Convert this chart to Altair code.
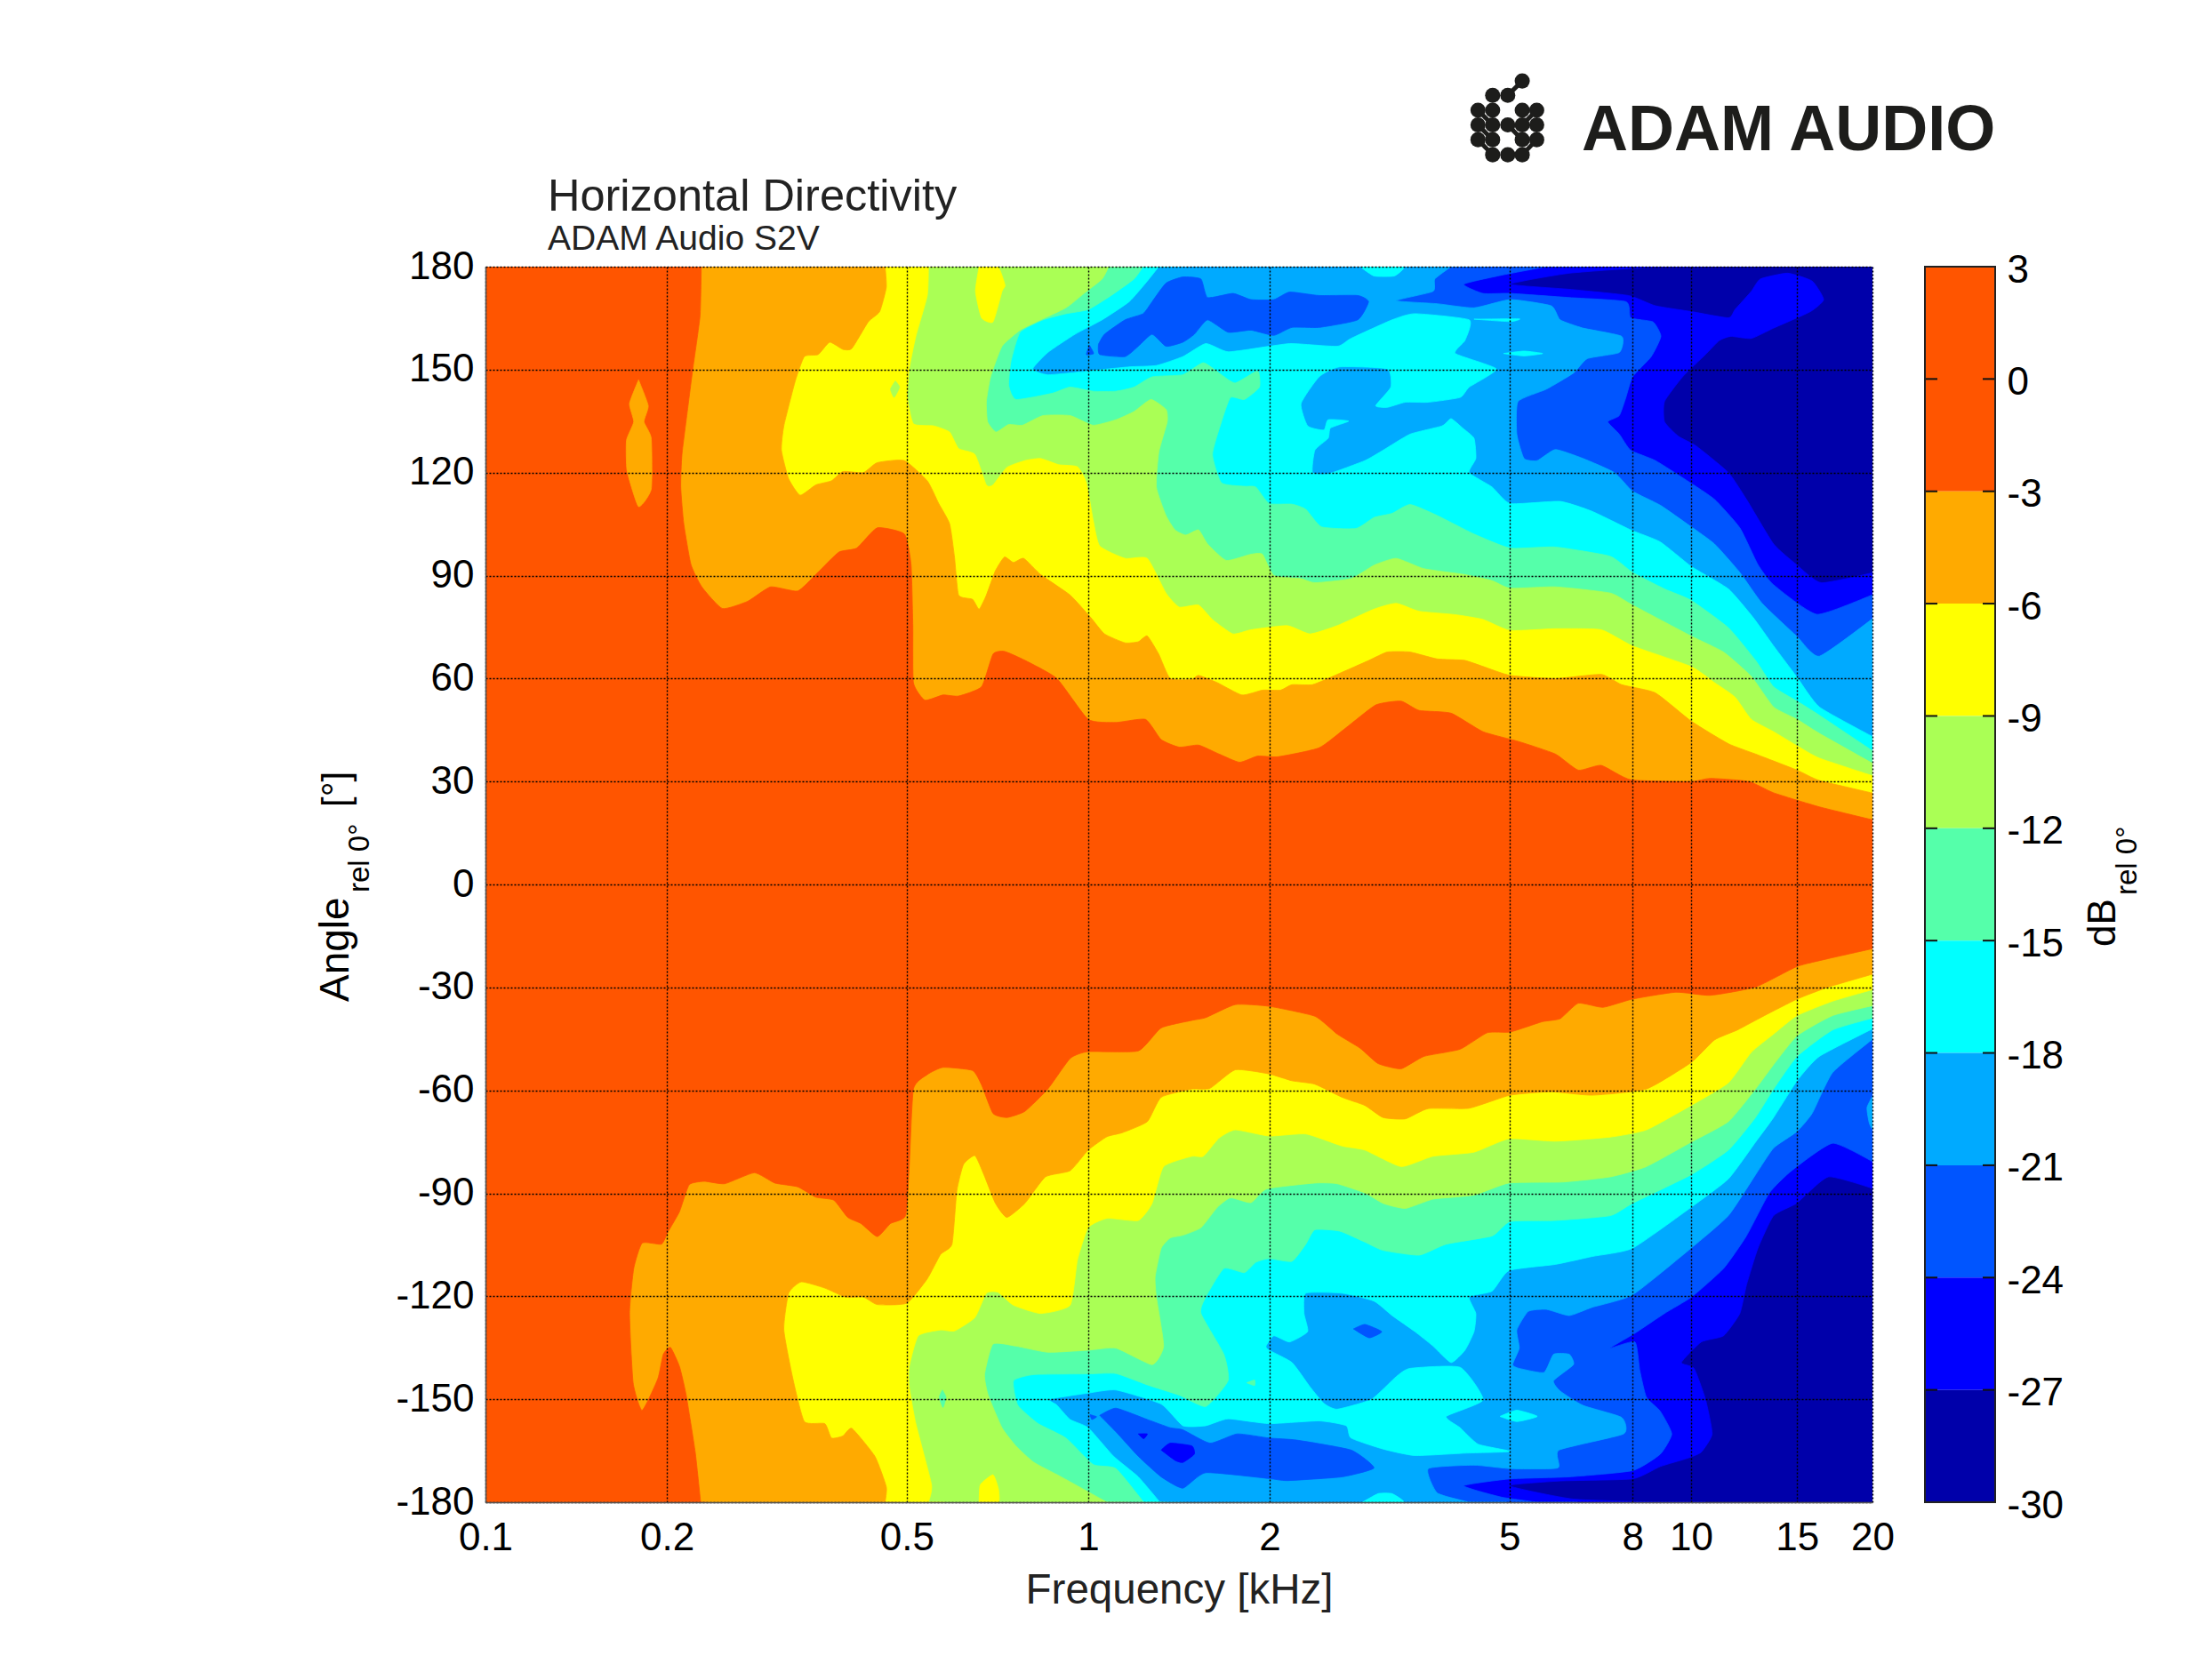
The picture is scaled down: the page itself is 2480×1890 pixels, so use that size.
import altair as alt
import pandas as pd

# ---- contour lines: (log10 of frequency in kHz, angle in degrees)
TOP_M27 = [(.941,180),(.798,178.1),(.700,174.9),(.798,173.4),(.896,171.6),(.941,168.6),(1.001,166.9),(1.062,165.1),(1.073,167.5),(1.100,172.8),(1.115,176.4),(1.160,178.1),(1.201,175.8),(1.220,170.4),(1.198,166.9),(1.137,162.1),(1.100,159.1),(1.066,159.7),(1.047,158.5),(1.024,154.4),(.986,147.9),(.956,140.7),(.956,134.8),(.979,130.6),(1.009,127.7),(1.062,120),(1.092,112.2),(1.137,99.2),(1.175,93.2),(1.216,87.9),(1.304,90.9)]
TOP_M24 = [(.760,180),(.685,177.5),(.623,174.9),(.655,172.2),(.700,172.2),(.798,171),(.892,169.8),(.900,165.1),(.937,163.9),(.950,159.7),(.934,153.8),(.903,147.9),(.892,141.9),(.881,136.6),(.862,134.8),(.881,131.2),(.900,126.5),(.941,123.5),(.994,117.6),(1.039,112.2),(1.081,103.9),(1.111,93.2),(1.137,87.3),(1.209,78.7),(1.304,84.6)]
TOP_M21 = [(.602,180),(.575,176.4),(.572,172.8),(.511,170.1),(.579,169.2),(.640,168),(.700,170.4),(.768,168.6),(.783,164.5),(.821,162.1),(.885,159.7),(.881,155),(.828,153.2),(.805,149),(.760,144.3),(.713,140.7),(.711,131.2),(.723,124.1),(.745,123.5),(.775,126.7),(.821,124.1),(.873,120),(.903,114.6),(.949,110.5),(.998,104.5),(1.039,99.2),(1.081,90.9),(1.118,81.9),(1.175,72.4),(1.213,66.5),(1.304,77.8)]
TOP_M18 = [(.117,180),(.098,175.8),(.068,169.8),(.023,164.5),(-.022,160.3),(-.067,155),(-.092,150.2),(-.067,148.5),(0,149.6),(.068,150.8),(.113,151.2),(.157,153.8),(.195,157.6),(.232,155.2),(.300,156.8),(.338,157.6),(.413,156.8),(.436,159.1),(.504,164.5),(.542,166.3),(.632,164.5),(.625,158.5),(.609,154.7),(.677,150.2),(.632,144.9),(.617,141.9),(.564,140.5),(.526,140.5),(.496,139),(.477,139.5),(.502,144.9),(.496,150.2),(.417,150.8),(.383,147.9),(.353,140.1),(.364,133.6),(.391,132.4),(.398,135.4),(.432,135),(.402,133),(.398,130),(.376,126.5),(.372,120),(.398,119.6),(.459,123.5),(.489,126.5),(.534,131.2),(.587,133.6),(.602,135.7),(.621,133),(.640,130),(.643,124.1),(.632,120),(.670,115.8),(.700,111),(.783,111.6),(.836,108.7),(.900,103.3),(.949,99.8),(1.001,92.6),(1.062,86.1),(1.103,77.8),(1.137,69.5),(1.175,60.6),(1.213,51.7),(1.304,42.8)]
TOP_M15 = [(.091,180),(.076,176.4),(.038,171.6),(0,167.5),(-.037,166.3),(-.075,164.5),(-.113,160.9),(-.128,152.6),(-.132,145.5),(-.120,141.3),(-.060,143.1),(-.030,144.9),(.008,143.7),(.046,143.7),(.076,144.9),(.106,147.9),(.157,148.5),(.191,152),(.221,148.5),(.244,146.1),(.281,149.6),(.284,144.9),(.259,141.3),(.236,141.9),(.221,134.8),(.206,125.3),(.221,117),(.259,116),(.278,115.8),(.300,111),(.338,110.8),(.361,109.3),(.387,104.2),(.444,103.7),(.474,106.9),(.504,108.1),(.534,110.7),(.579,107.5),(.640,102.1),(.700,98),(.775,98.3),(.866,95.6),(.903,90.9),(.956,86.1),(1.0,82.8),(1.062,74.8),(1.107,65.3),(1.137,57.6),(1.176,53.4),(1.213,49.3),(1.304,38.6)]
TOP_M12 = [(.034,180),(.023,176.4),(-.007,172.2),(-.037,168),(-.086,163.9),(-.113,161.5),(-.143,156.8),(-.162,147.9),(-.169,140.7),(-.167,134.8),(-.153,131.8),(-.132,134),(-.109,133.8),(-.075,136.6),(-.030,136.6),(.008,133.8),(.046,135.4),(.076,137.8),(.104,141.3),(.129,138.4),(.131,134.8),(.117,125.9),(.113,115.8),(.129,107.5),(.144,103.3),(.162,101.8),(.183,103.3),(.198,99.2),(.229,94.4),(.270,96.2),(.289,96.2),(.308,90),(.353,89.1),(.376,87.9),(.436,89.1),(.474,93),(.511,95),(.557,92),(.624,90.3),(.670,88.5),(.700,86.3),(.775,86.7),(.866,84.9),(.903,81.4),(1.0,72.4),(1.054,67.7),(1.100,60.6),(1.137,51.7),(1.176,48.1),(1.213,44),(1.304,35)]
TOP_M9 = [(-.265,180),(-.267,171.6),(-.286,159.7),(-.297,150.2),(-.300,141.9),(-.290,134.2),(-.256,133.6),(-.230,131.8),(-.215,127),(-.188,125.3),(-.169,116.4),(-.158,116.4),(-.135,121.5),(-.105,123.5),(-.079,124.1),(-.049,122.3),(-.018,121.7),(-.003,117),(.008,106.3),(.019,98.6),(.061,95),(.098,95),(.129,84.9),(.151,80.8),(.183,81.4),(.206,77.2),(.240,73),(.270,74.2),(.330,75.4),(.368,73),(.413,75.4),(.474,80.2),(.511,81.9),(.549,79.6),(.609,78.6),(.655,77.2),(.700,74),(.775,74.5),(.851,74.2),(.903,69.5),(1.0,63.5),(1.039,58.8),(1.073,54.6),(1.100,48.1),(1.137,44.5),(1.176,40.4),(1.213,36.8),(1.304,31.5)]
TOP_M6 = [(-.337,180),(-.335,174),(-.346,166.9),(-.365,163.9),(-.392,156.2),(-.407,155.9),(-.429,158),(-.448,154.4),(-.471,153.8),(-.486,146.7),(-.505,133.6),(-.509,126.5),(-.497,118.2),(-.478,113.4),(-.452,116.4),(-.426,117.6),(-.407,120.3),(-.373,120),(-.350,122.9),(-.305,123.5),(-.267,117.6),(-.248,111),(-.230,105.1),(-.222,95.6),(-.215,84.3),(-.192,83.1),(-.181,80.2),(-.169,84.3),(-.154,91.4),(-.139,95.4),(-.124,93.8),(-.107,95),(-.079,90.3),(-.030,84.3),(.004,77.8),(.027,73),(.061,70.4),(.083,70.7),(.098,72.4),(.117,67.1),(.136,60),(.172,59.7),(.183,60.9),(.214,58.8),(.255,55.2),(.289,56.6),(.319,56.6),(.338,58.2),(.372,58.2),(.413,61.2),(.466,65.3),(.496,67.7),(.534,67.7),(.579,65.7),(.624,65.3),(.655,63.5),(.700,60.9),(.775,60),(.851,61.2),(.885,58.2),(.941,55.8),(1.001,47.5),(1.062,41),(1.107,38),(1.176,33.3),(1.213,30.3),(1.304,26.5)]
TOP_M3 = [(-.642,180),(-.644,165.7),(-.656,150.2),(-.663,140.7),(-.674,125.3),(-.676,115.8),(-.671,105.1),(-.659,93.2),(-.641,86.7),(-.607,80.4),(-.565,82.5),(-.527,86.7),(-.482,85.5),(-.452,90.3),(-.414,96.8),(-.384,98),(-.350,103.9),(-.305,102.1),(-.294,93.2),(-.291,75.4),(-.290,58.8),(-.271,53.7),(-.241,55.2),(-.215,54.9),(-.177,57.6),(-.158,67.1),(-.139,67.9),(-.105,65.3),(-.052,60),(0,48.1),(.046,47.2),(.095,48.1),(.121,42.2),(.151,40),(.183,40.6),(.217,38),(.251,35.6),(.281,37.4),(.315,37.2),(.383,39.8),(.428,45.7),(.477,52.3),(.519,53.4),(.549,50.7),(.602,49.9),(.655,44.5),(.715,41.6),(.775,38),(.813,33.3),(.851,34.7),(.900,30.5),(1.0,30),(1.032,30.9),(1.096,30),(1.137,26.7),(1.213,22.6),(1.304,18.7)]

BOT_M27 = [(.949,-180),(.805,-179.1),(.698,-175.2),(.783,-173.8),(.903,-173.2),(.949,-169.6),(.994,-167.2),(1.017,-165.4),(1.035,-160.1),(1.024,-150),(1.005,-141),(.984,-139.3),(1.017,-133.3),(1.054,-131.5),(1.081,-125),(1.092,-116.7),(1.111,-106),(1.137,-96.5),(1.175,-92.9),(1.228,-85.2),(1.304,-88.7)]
BOT_M24 = [(.745,-180),(.685,-178.5),(.623,-175.2),(.700,-173.2),(.798,-172.6),(.903,-170.8),(.949,-166),(.968,-160.1),(.949,-153.5),(.926,-149.4),(.915,-141.6),(.907,-133.3),(.866,-135.1),(.900,-131.5),(.911,-130.3),(.956,-125),(1.001,-120.2),(1.054,-111.9),(1.092,-102.4),(1.130,-89.9),(1.167,-83.4),(1.235,-75.4),(1.304,-81)]
BOT_M21 = [(.632,-180),(.579,-177.3),(.564,-170.2),(.640,-169.2),(.700,-170.2),(.779,-170),(.781,-164.8),(.888,-160.1),(.885,-155.3),(.821,-151.8),(.783,-147.6),(.772,-144.6),(.805,-139.9),(.798,-136.9),(.772,-136.9),(.756,-142.2),(.715,-141),(.704,-139.9),(.715,-135.1),(.711,-129.8),(.730,-124.4),(.760,-123.8),(.798,-125.6),(.836,-123.2),(.903,-119.6),(1.0,-106),(1.062,-96.5),(1.107,-84.6),(1.137,-76.8),(1.175,-72.1),(1.201,-66.7),(1.235,-54.8),(1.304,-44.7)]
BOT_M18 = [(.119,-180),(.083,-172.6),(.042,-166.6),(0,-158.3),(-.030,-155.9),(-.052,-151.7),(-.064,-150),(0,-148.2),(.046,-147.3),(.121,-151.4),(.157,-157.7),(.195,-157.7),(.232,-155.7),(.300,-157.1),(.383,-156.3),(.428,-157.7),(.436,-161.3),(.489,-164.5),(.542,-166.4),(.625,-165.7),(.700,-165.2),(.647,-163.1),(.617,-158.3),(.594,-155),(.655,-150.2),(.617,-140.7),(.534,-141),(.511,-143.4),(.470,-150),(.413,-152.9),(.391,-151.2),(.368,-146.4),(.338,-139.3),(.300,-135.7),(.295,-134.5),(.308,-131.5),(.334,-133.3),(.364,-130.3),(.358,-125),(.361,-119.1),(.421,-119.1),(.474,-121.4),(.504,-125.6),(.542,-130.3),(.572,-134.5),(.602,-139.3),(.625,-135.7),(.640,-130.3),(.643,-125),(.632,-120.2),(.670,-118.5),(.698,-112.5),(.775,-110.7),(.836,-108.4),(.903,-106),(1.0,-94.1),(1.062,-85.8),(1.107,-75.1),(1.137,-67.9),(1.176,-57.2),(1.213,-50.1),(1.304,-41.8)]
BOT_M15 = [(.092,-180),(.046,-170.2),(.008,-169),(-.037,-161.3),(-.083,-157.1),(-.117,-151.7),(-.124,-144.6),(-.090,-142.8),(0,-142.6),(.046,-142.5),(.098,-145.8),(.151,-148.8),(.195,-152.1),(.232,-144.6),(.225,-136.9),(.187,-125),(.195,-120.2),(.225,-111.9),(.259,-113.1),(.278,-110.1),(.300,-109),(.338,-109.8),(.361,-104.8),(.376,-100.6),(.417,-101),(.459,-104.2),(.489,-106.6),(.549,-108),(.594,-104.8),(.670,-102.4),(.700,-98.2),(.775,-97.9),(.866,-96.5),(.903,-92.9),(1.0,-84.6),(1.062,-77.4),(1.107,-67.9),(1.137,-59.6),(1.176,-50.1),(1.235,-42.4),(1.304,-38.8)]
BOT_M12 = [(.031,-180),(-.045,-172.6),(-.090,-168.4),(-.120,-163.6),(-.143,-158.3),(-.166,-148.8),(-.172,-142.8),(-.158,-133.9),(-.120,-134.5),(-.067,-136.3),(0,-135.7),(.046,-135.1),(.106,-139.9),(.125,-134.5),(.113,-120.2),(.111,-114.3),(.121,-106),(.136,-103),(.157,-102.2),(.187,-100),(.214,-94.1),(.236,-91.3),(.270,-92.7),(.296,-88.7),(.376,-87),(.413,-87.2),(.459,-89.9),(.489,-92.9),(.526,-94.4),(.572,-91.7),(.640,-90.5),(.698,-87),(.787,-86.7),(.866,-85.2),(.926,-82.2),(1.0,-75.1),(1.062,-69.1),(1.107,-59.6),(1.137,-52.5),(1.176,-44.1),(1.235,-38.2),(1.304,-35.2)]
BOT_M9 = [(-.265,-180),(-.260,-174.9),(-.286,-157.1),(-.297,-146.4),(-.297,-140.5),(-.282,-131.5),(-.245,-129.8),(-.222,-130.1),(-.188,-126.2),(-.169,-119.1),(-.150,-118.8),(-.124,-122.6),(-.079,-125),(-.030,-122.6),(-.018,-109.5),(0,-100),(.031,-97.3),(.083,-97.9),(.106,-92.9),(.125,-82.2),(.172,-79.2),(.191,-79.2),(.217,-73.9),(.244,-71.5),(.300,-73.3),(.361,-72.7),(.421,-76.2),(.459,-77.4),(.519,-82.2),(.572,-79.2),(.640,-78),(.698,-74.1),(.775,-74.8),(.866,-73.6),(.926,-71.5),(1.0,-64.4),(1.062,-57.8),(1.100,-48.9),(1.137,-43.6),(1.176,-38.2),(1.235,-34),(1.304,-30.5)]
BOT_M6 = [(-.337,-180),(-.335,-175.5),(-.354,-166.6),(-.392,-158.5),(-.407,-160.7),(-.426,-161.3),(-.437,-157.1),(-.471,-156.5),(-.490,-144),(-.505,-129.7),(-.497,-119.1),(-.476,-115.8),(-.437,-117.6),(-.403,-120.2),(-.373,-120.2),(-.350,-122.4),(-.301,-122),(-.267,-114.9),(-.245,-107.8),(-.226,-104.8),(-.218,-89.3),(-.207,-81.6),(-.188,-79),(-.173,-84.6),(-.154,-92.9),(-.135,-97),(-.105,-92.9),(-.071,-85.2),(-.030,-83.4),(0,-77.4),(.031,-73.5),(.057,-72.3),(.098,-69.1),(.121,-62),(.172,-59.6),(.202,-59.4),(.244,-54),(.300,-55.2),(.338,-57.2),(.376,-58.2),(.421,-62),(.459,-64.4),(.489,-67.9),(.526,-68.3),(.564,-65.3),(.632,-65.2),(.700,-61.4),(.768,-60.4),(.836,-61.4),(.926,-59.6),(1.0,-51.9),(1.039,-45.3),(1.077,-42.4),(1.122,-38.2),(1.176,-33.4),(1.228,-29.9),(1.304,-26)]
BOT_M3 = [(-.643,-180),(-.652,-165.4),(-.667,-148.8),(-.678,-140.5),(-.693,-134.9),(-.705,-136.9),(-.714,-144),(-.740,-153.2),(-.755,-145.2),(-.761,-125),(-.754,-111.9),(-.740,-104.5),(-.708,-104.8),(-.697,-101.2),(-.678,-95.3),(-.662,-87.5),(-.637,-86.5),(-.603,-87.2),(-.554,-84),(-.520,-87),(-.482,-88.1),(-.452,-91.1),(-.422,-92),(-.399,-97),(-.377,-98.8),(-.350,-102.6),(-.328,-98.8),(-.303,-96.5),(-.297,-82.2),(-.290,-59.6),(-.267,-55.4),(-.241,-53.3),(-.192,-54.2),(-.177,-58.4),(-.158,-66.7),(-.135,-67.9),(-.105,-66.1),(-.067,-59.6),(-.030,-50.7),(0,-48.7),(.083,-48.5),(.121,-41.8),(.172,-39.6),(.195,-38.8),(.244,-35),(.300,-35.5),(.376,-38.4),(.413,-43.6),(.451,-47.7),(.481,-52.2),(.519,-53.7),(.557,-50.1),(.617,-48),(.662,-43.2),(.700,-43),(.753,-40),(.783,-39.1),(.813,-34.6),(.854,-35.8),(.903,-33.4),(.975,-31.4),(1.032,-32.3),(1.107,-29.9),(1.176,-23.9),(1.228,-21.6),(1.304,-18.6)]

# ---- closed patches that do not reach the left side of the map
ISLE_ORANGE = [(-.746,147),(-.761,140.1),(-.754,134.8),(-.766,129.4),(-.765,120.5),(-.746,110.1),(-.725,115.2),(-.725,130),(-.737,134.8),(-.730,139.5)]
ISLE_YELLOW_TOP = [(-.181,180),(-.187,172.8),(-.177,165.1),(-.158,163.9),(-.143,172.8),(-.138,174.6),(-.150,180)]
ISLE_YELLOW_BOT = [(-.181,-180),(-.179,-174.9),(-.158,-172),(-.149,-176.1),(-.149,-180)]
ISLE_LIME = [(-.320,146.7),(-.328,144.3),(-.322,141.9),(-.313,144.9)]
ISLE_GREEN_A = [(-.242,-147.3),(-.247,-149.4),(-.241,-152.4),(-.236,-149.4)]
ISLE_GREEN_B = [(.263,-145.2),(.276,-144.4),(.276,-146)]
ISLE_CYAN_TOP = [(.451,180),(.474,177.3),(.508,177.3),(.523,180)]
ISLE_CYAN_BOT = [(.455,-180),(.481,-177.5),(.504,-177.5),(.523,-180)]
ISLE_CYAN_A = [(.640,164.7),(.715,164.8),(.700,164)]
ISLE_CYAN_B = [(.689,154.7),(.723,155.4),(.754,154.7),(.723,154)]
ISLE_CYAN_C = [(.683,-155),(.711,-153.2),(.745,-155),(.711,-156.5)]
ISLE_CYAN_D = [(.598,-129.8),(.632,-129.8),(.632,-131),(.598,-131)]
ISLE_SKY = [(1.304,-60.8),(1.292,-65),(1.296,-69.7),(1.304,-71.5)]
ISLE_ROYAL_TOP = [(.017,157.4),(.027,160.3),(.061,164.5),(.091,166.3),(.106,169.8),(.129,175.2),(.157,177),(.187,176.4),(.198,171),(.240,172.2),(.270,170.4),(.308,170.4),(.334,172.6),(.383,171.6),(.447,171.6),(.465,169.8),(.447,164.5),(.383,162.3),(.338,162.3),(.308,160),(.270,161.5),(.232,160.9),(.198,164.5),(.176,160.3),(.157,158),(.129,156.8),(.106,160.3),(.083,156.8),(.061,153.8),(.019,154.4)]
ISLE_ROYAL_TOP2 = [(.002,157.1),(-.003,154.4),(.009,154.7)]
ISLE_ROYAL_BOT = [(.019,-154.7),(.046,-152.6),(.098,-155.9),(.136,-158.3),(.157,-158.9),(.202,-162.8),(.247,-160.1),(.300,-161.3),(.346,-161.9),(.436,-164.8),(.474,-170),(.421,-172.6),(.330,-173.7),(.300,-173.1),(.195,-171.4),(.157,-175.9),(.121,-172.6),(.083,-166.6),(.046,-159.5)]
ISLE_ROYAL_BOT2 = [(.003,-154.5),(.014,-155.1),(.006,-155.9)]
ISLE_ROYAL_BOT3 = [(.440,-129.5),(.459,-128.2),(.487,-130.3),(.466,-132.1)]
ISLE_BLUE_A = [(.121,-164.8),(.136,-162.8),(.172,-163.6),(.176,-166),(.157,-168.4),(.144,-167.8)]
ISLE_BLUE_B = [(.083,-160.1),(.098,-160.1),(.092,-161.5)]

# ---- colours of the 3 dB bands and colour bar
DARK, BLUE, ROYAL, SKY, CYAN, GREEN, LIME, YELLOW, ORANGE, RED = (
    "#0000AA", "#0000FF", "#0055FF", "#00AAFF", "#00FFFF",
    "#55FFAA", "#AAFF55", "#FFFF00", "#FFAA00", "#FF5500")
BAR_TOP = [3, -3, -6, -9, -12, -15, -18, -21, -24, -27]
BAR_BOTTOM = [-3, -6, -9, -12, -15, -18, -21, -24, -27, -30]
BAR_COLORS = [RED, ORANGE, YELLOW, LIME, GREEN, CYAN, SKY, ROYAL, BLUE, DARK]
BAR_TICKS = [3, 0, -3, -6, -9, -12, -15, -18, -21, -24, -27, -30]
FREQ_TICKS = [0.1, 0.2, 0.5, 1, 2, 5, 8, 10, 15, 20]
ANGLE_TICKS = [180, 150, 120, 90, 60, 30, 0, -30, -60, -90, -120, -150, -180]

# ---- logo dots and their links, placed in the same units as the map
LOGO_X = [.720, .696, .6709, .6709, .6466, .720, .744, .6466, .6709, .696, .720, .744, .6466, .6709, .720, .744, .6709, .696, .720]
LOGO_Y = [234.1, 229.9, 229.9, 225.6, 225.6, 225.6, 225.6, 221.3, 221.3, 221.3, 221.3, 221.3, 217, 217, 217, 217, 212.6, 212.6, 212.6]
LINK_FROM = [(.720, 234.1), (.6466, 225.6), (.744, 225.6), (.696, 221.3), (.6466, 221.3), (.6466, 217), (.744, 217)]
LINK_TO = [(.696, 229.9), (.6709, 221.3), (.720, 221.3), (.720, 217), (.6709, 217), (.6709, 212.6), (.720, 212.6)]

LEFT, RIGHT = -1.0, 1.31
FONT = "Liberation Sans"

rows = []
def add(points, color):
    pid = add.n
    add.n += 1
    for i, (l, a) in enumerate(points):
        rows.append({"poly": pid, "i": i, "freq": 10 ** l, "angle": a, "color": color})
add.n = 0

def corner(l, a):
    # a point given twice keeps the smoothed outline sharp at the frame
    return [(l, a), (l, a)]

def region(start, line):
    end_angle = line[-1][1]
    return (corner(LEFT, start) + corner(*line[0]) + line[1:-1] + corner(*line[-1])
            + corner(RIGHT, end_angle) + corner(RIGHT, 0) + corner(LEFT, 0))

add(corner(LEFT, 180) + corner(RIGHT, 180) + corner(RIGHT, -180) + corner(LEFT, -180), DARK)
for top, bot, col in [(TOP_M27, BOT_M27, BLUE), (TOP_M24, BOT_M24, ROYAL), (TOP_M21, BOT_M21, SKY),
                      (TOP_M18, BOT_M18, CYAN), (TOP_M15, BOT_M15, GREEN), (TOP_M12, BOT_M12, LIME),
                      (TOP_M9, BOT_M9, YELLOW), (TOP_M6, BOT_M6, ORANGE), (TOP_M3, BOT_M3, RED)]:
    add(region(180, top), col)
    add(region(-180, bot), col)
for pts, col in [(ISLE_ORANGE, ORANGE), (ISLE_YELLOW_TOP, YELLOW), (ISLE_YELLOW_BOT, YELLOW), (ISLE_LIME, LIME),
                 (ISLE_GREEN_A, GREEN), (ISLE_GREEN_B, GREEN), (ISLE_CYAN_TOP, CYAN), (ISLE_CYAN_BOT, CYAN),
                 (ISLE_CYAN_A, CYAN), (ISLE_CYAN_B, CYAN), (ISLE_CYAN_C, CYAN), (ISLE_CYAN_D, CYAN), (ISLE_SKY, SKY),
                 (ISLE_ROYAL_TOP, ROYAL), (ISLE_ROYAL_TOP2, ROYAL), (ISLE_ROYAL_BOT, ROYAL), (ISLE_ROYAL_BOT2, ROYAL),
                 (ISLE_ROYAL_BOT3, ROYAL), (ISLE_BLUE_A, BLUE), (ISLE_BLUE_B, BLUE)]:
    add(pts + pts[:1], col)
df = pd.DataFrame(rows)

x_scale = alt.Scale(type="log", domain=[0.1, 20], nice=False)
y_scale = alt.Scale(domain=[-180, 180], nice=False)
PLAIN = "'' + datum.value"

map_layer = alt.Chart(df).mark_line(clip=True, strokeWidth=0.8, interpolate="cardinal", tension=0.5).encode(
    x=alt.X("freq:Q", scale=x_scale, axis=alt.Axis(
        values=FREQ_TICKS, format="~g", title="Frequency [kHz]", grid=True, gridColor="black",
        gridDash=[2, 2], gridWidth=1.4, gridOpacity=1, zindex=1, ticks=False, labelPadding=18,
        labelFontSize=44, labelFont=FONT, labelColor="black", labelOverlap=False, labelFlush=False,
        titleFontSize=47.5, titleFont=FONT, titleFontWeight="normal", titleColor="#222222", titlePadding=13,
        domainColor="#555555", domainWidth=1.5)),
    y=alt.Y("angle:Q", scale=y_scale, axis=alt.Axis(
        values=ANGLE_TICKS, labelExpr=PLAIN, title=None, grid=True, gridColor="black",
        gridDash=[2, 2], gridWidth=1.4, gridOpacity=1, zindex=1, ticks=False, labelPadding=13,
        labelFontSize=44, labelFont=FONT, labelColor="black", labelOverlap=False, labelFlush=False,
        domainColor="#555555", domainWidth=1.5)),
    order="i:Q",
    detail="poly:N",
    fill=alt.Fill("color:N", scale=None),
    stroke=alt.Stroke("color:N", scale=None),
)

logo_dots = alt.Chart(pd.DataFrame({"l": LOGO_X, "a": LOGO_Y})).transform_calculate(
    f="pow(10, datum.l)"
).mark_point(filled=True, size=290, opacity=1, color="#1d1d1b").encode(
    x=alt.X("f:Q", scale=x_scale), y=alt.Y("a:Q", scale=y_scale))

link_rows = []
for n, (p, q) in enumerate(zip(LINK_FROM, LINK_TO)):
    link_rows += [{"n": n, "i": 0, "f": 10 ** p[0], "a": p[1]}, {"n": n, "i": 1, "f": 10 ** q[0], "a": q[1]}]
logo_links = alt.Chart(pd.DataFrame(link_rows)).mark_line(color="#1d1d1b", strokeWidth=5).encode(
    x=alt.X("f:Q", scale=x_scale), y=alt.Y("a:Q", scale=y_scale), order="i:Q", detail="n:N")

def label(text, x, y, size, color="black", angle=0, weight="normal", font=FONT):
    return alt.Chart(pd.DataFrame({"t": [text]})).mark_text(
        align="left", baseline="alphabetic", angle=angle, fontSize=size, color=color,
        fontWeight=weight, font=font).encode(text="t:N", x=alt.value(x), y=alt.value(y))

texts = [
    label("Horizontal Directivity", 70, -63, 50.5, "#222222"),
    label("ADAM Audio S2V", 70, -19, 39, "#222222"),
    label("ADAM AUDIO", 1233, -131, 72, "#1d1d1b", weight="bold"),
    label("Angle", -154, 827, 46, angle=270),
    label("rel 0°", -131, 704, 33, angle=270),
    label("[°]", -154, 608, 42, angle=270),
    label("dB", 1833, 765, 44, angle=270),
    label("rel 0°", 1857, 707, 33, angle=270),
]

main = alt.layer(map_layer, logo_links, logo_dots, *texts)

db_scale = alt.Scale(domain=[-30, 3], nice=False)
BAR_L, BAR_R = 1619, 1698
bar_rects = alt.Chart(pd.DataFrame({"t": BAR_TOP, "b": BAR_BOTTOM, "c": BAR_COLORS})).mark_rect().encode(
    y=alt.Y("t:Q", scale=db_scale, axis=alt.Axis(
        values=BAR_TICKS, labelExpr=PLAIN, orient="right", offset=138, title=None, grid=False, ticks=False,
        domain=False, labelOffset=4, labelPadding=13, labelFontSize=44, labelFont=FONT, labelColor="black",
        labelOverlap=False, labelFlush=False)),
    y2="b:Q",
    x=alt.value(BAR_L), x2=alt.value(BAR_R),
    fill=alt.Fill("c:N", scale=None),
)
tick_df = pd.DataFrame({"d": BAR_TICKS})
bar_ticks_l = alt.Chart(tick_df).mark_rule(color="#111111", strokeWidth=2).encode(
    y=alt.Y("d:Q", scale=db_scale), x=alt.value(BAR_L), x2=alt.value(BAR_L + 14))
bar_ticks_r = alt.Chart(tick_df).mark_rule(color="#111111", strokeWidth=2).encode(
    y=alt.Y("d:Q", scale=db_scale), x=alt.value(BAR_R - 14), x2=alt.value(BAR_R))
bar_box = alt.Chart(pd.DataFrame({"t": [3], "b": [-30]})).mark_rect(
    fillOpacity=0, stroke="#222222", strokeWidth=2).encode(
    y=alt.Y("t:Q", scale=db_scale), y2="b:Q", x=alt.value(BAR_L), x2=alt.value(BAR_R))
bar = alt.layer(bar_rects, bar_ticks_l, bar_ticks_r, bar_box)

chart = alt.layer(main, bar).resolve_scale(y="independent").properties(
    width=1560, height=1390,
    autosize=alt.AutoSizeParams(type="none"),
    padding={"left": 538, "top": 292, "right": 350, "bottom": 170},
    background="white",
).configure_view(stroke=None)

chart.save("out.html", embed_options={"renderer": "svg", "actions": False})
